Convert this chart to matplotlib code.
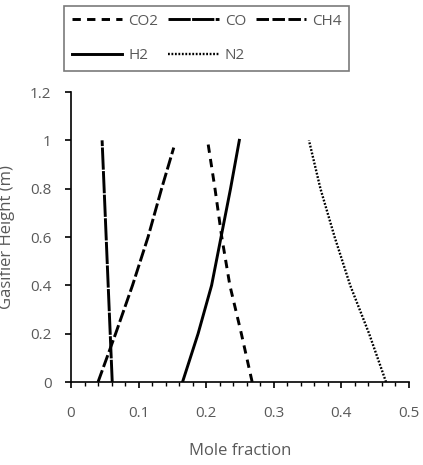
import matplotlib.pyplot as plt
from matplotlib.ticker import MultipleLocator

plt.rcParams['font.family'] = ['Open Sans', 'DejaVu Sans']
plt.rcParams['lines.scale_dashes'] = False

# heights along the gasifier (m)
height = [0, 0.2, 0.4, 0.6, 0.8, 1.0]
height_ch4 = [0, 0.2, 0.4, 0.6, 0.8, 0.97]

# mole fractions
co2 = [0.268, 0.252, 0.235, 0.223, 0.213, 0.202]
co = [0.061, 0.058, 0.055, 0.052, 0.049, 0.046]
ch4 = [0.040, 0.066, 0.091, 0.114, 0.134, 0.152]
h2 = [0.165, 0.188, 0.208, 0.222, 0.236, 0.249]
n2 = [0.466, 0.441, 0.413, 0.390, 0.369, 0.352]

x_ticks = [0, 0.1, 0.2, 0.3, 0.4, 0.5]
x_labels = ['0', '0.1', '0.2', '0.3', '0.4', '0.5']
y_ticks = [0, 0.2, 0.4, 0.6, 0.8, 1.0, 1.2]
y_labels = ['0', '0.2', '0.4', '0.6', '0.8', '1', '1.2']

grey = '#595959'

fig = plt.figure(figsize=(4.23, 4.65), dpi=100)
ax = fig.add_axes([71 / 423, 1 - 382 / 465, 338 / 423, 290 / 465])

lw = 2.1
l_co2, = ax.plot(co2, height, color='black', lw=lw, ls=(0, (6, 4.5)), label='CO2')
l_co, = ax.plot(co, height, color='black', lw=lw, ls=(0, (16, 1)), label='CO')
l_ch4, = ax.plot(ch4, height_ch4, color='black', lw=lw, ls=(0, (9, 2.5)), label='CH4')
l_h2, = ax.plot(h2, height, color='black', lw=lw, ls='-', label='H2')
l_n2, = ax.plot(n2, height, color='black', lw=1.7, ls=(0, (1.3, 1.2)), label='N2')

ax.set_xlim(0, 0.5)
ax.set_ylim(0, 1.2)
ax.set_xticks(x_ticks)
ax.set_xticklabels(x_labels)
ax.xaxis.set_minor_locator(MultipleLocator(0.02))
ax.set_yticks(y_ticks)
ax.set_yticklabels(y_labels)

for side in ['top', 'right']:
    ax.spines[side].set_visible(False)
for side in ['left', 'bottom']:
    ax.spines[side].set_linewidth(1.2)
    ax.spines[side].set_color('black')

ax.tick_params(axis='both', which='major', direction='out', length=4,
               width=1.2, labelsize=11, labelcolor=grey)
ax.tick_params(axis='x', which='major', pad=13)
ax.tick_params(axis='y', which='major', pad=10)
ax.tick_params(axis='x', which='minor', direction='out', length=3, width=1)

ax.set_xlabel('Mole fraction', fontsize=12, color=grey)
ax.set_ylabel('Gasifier Height (m)', fontsize=12, color=grey)
ax.xaxis.set_label_coords(0.5, -0.21)
ax.yaxis.set_label_coords(-0.165, 0.5)

# legend filled column by column -> order so rows read CO2 CO CH4 / H2 N2
handles = [l_co2, l_h2, l_co, l_n2, l_ch4]
leg = fig.legend(handles, [h.get_label() for h in handles],
                 loc='upper left', bbox_to_anchor=(64 / 423, 1 - 6 / 465),
                 ncol=3, fontsize=11, frameon=True, fancybox=False,
                 handlelength=3.3, handletextpad=0.4, columnspacing=0.65,
                 labelspacing=1.3, borderaxespad=0, borderpad=0.5)
leg.get_frame().set_edgecolor(grey)
leg.get_frame().set_linewidth(1.2)
for t in leg.get_texts():
    t.set_color(grey)

fig.savefig('out.png', dpi=100)
